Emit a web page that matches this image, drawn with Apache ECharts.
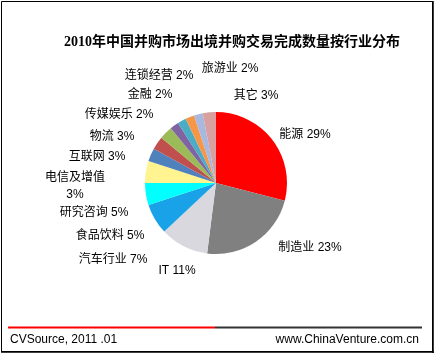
<!DOCTYPE html>
<html>
<head>
<meta charset="utf-8">
<script src="https://cdn.jsdelivr.net/npm/echarts@6/dist/echarts.min.js"></script>
<style>
  html, body { margin: 0; padding: 0; background: #fff; }
  #main { width: 435px; height: 354px; }
</style>
</head>
<body>
<div id="main"></div>
<script>
var industries = ['能源', '制造业', 'IT', '汽车行业', '食品饮料', '研究咨询', '电信及增值',
    '互联网', '物流', '传媒娱乐', '金融', '连锁经营', '旅游业', '其它'];
var shares = [29, 23, 11, 7, 5, 5, 3, 3, 3, 2, 2, 2, 2, 3];
var sliceColors = ['#ff0000', '#808080', '#d8d8de', '#1aa2e8', '#00ffff', '#fff490', '#4f81bd',
    '#c0504d', '#9bbb59', '#8064a2', '#4bacc6', '#f79646', '#a8b8de', '#d9a0a0'];
// label anchors, offset from the pie centre (Excel-style spread of the labels)
var labelOffsets = [[89, -48], [94, 65], [-39, 88], [-103, 77], [-106, 53], [-122, 30], [-141, 3],
    [-119, -26], [-104, -46], [-97, -68], [-66, -88], [-57, -107], [14, -114], [40, -87]];

var pieCenter = [216, 183];

var dataMap = industries.map(function (name, i) {
    return { name: name, value: shares[i], itemStyle: { color: sliceColors[i] } };
});

var fontCn = '"Liberation Sans", "Noto Sans CJK SC", sans-serif';

var option = {
    animation: false,
    backgroundColor: '#fff',
    title: {
        text: '2010年中国并购市场出境并购交易完成数量按行业分布',
        left: 227,
        top: 30,
        textAlign: 'center',
        textStyle: { fontSize: 14, fontWeight: 'bold', color: '#000', fontFamily: '"Liberation Serif", "Noto Sans CJK SC", serif' }
    },
    graphic: [
        { type: 'rect', shape: { x: 1.5, y: 1.5, width: 431, height: 350 }, style: { fill: null, stroke: '#000', lineWidth: 1 } },
        { type: 'line', shape: { x1: 433, y1: 1, x2: 433, y2: 353 }, style: { stroke: '#000', lineWidth: 1.5 } },
        { type: 'line', shape: { x1: 1, y1: 352, x2: 434, y2: 352 }, style: { stroke: '#000', lineWidth: 1.5 } },
        { type: 'line', shape: { x1: 8, y1: 327.5, x2: 215, y2: 327.5 }, style: { stroke: '#ff0000', lineWidth: 2 } },
        { type: 'line', shape: { x1: 215, y1: 327.5, x2: 422, y2: 327.5 }, style: { stroke: '#333', lineWidth: 2 } },
        { type: 'text', left: 10, top: 334, style: { text: 'CVSource, 2011 .01', font: '12px "Liberation Sans", sans-serif', fill: '#000' } },
        { type: 'text', right: 16, top: 334, style: { text: 'www.ChinaVenture.com.cn', font: '12px "Liberation Sans", sans-serif', fill: '#000' } }
    ],
    series: [
        {
            name: '行业分布',
            type: 'pie',
            center: pieCenter,
            radius: 71,
            startAngle: 90,
            clockwise: true,
            avoidLabelOverlap: false,
            label: {
                show: true,
                position: 'outside',
                fontSize: 12,
                color: '#000',
                fontFamily: fontCn,
                lineHeight: 17,
                align: 'center',
                formatter: function (p) {
                    var n = p.name.length > 4 ? p.name + '\n' : p.name + ' ';
                    return n + p.value + '%';
                }
            },
            labelLine: { show: false },
            labelLayout: function (params) {
                var off = labelOffsets[params.dataIndex];
                return {
                    x: pieCenter[0] + off[0],
                    y: pieCenter[1] + off[1],
                    align: 'center',
                    verticalAlign: 'middle'
                };
            },
            itemStyle: { borderWidth: 0 },
            data: dataMap
        }
    ]
};

var myChart = echarts.init(document.getElementById('main'));
myChart.setOption(option);
</script>
</body>
</html>
